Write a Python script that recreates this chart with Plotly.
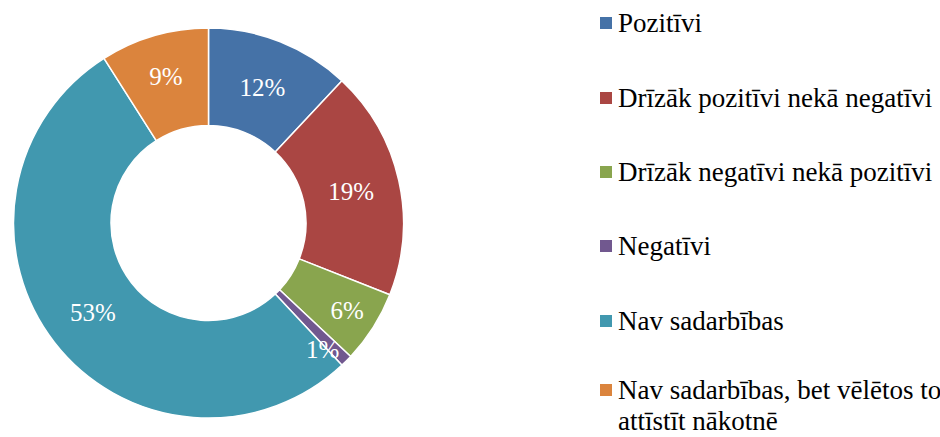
import math
import plotly.graph_objects as go

# Survey response shares (percent)
labels = [
    "Pozitīvi",
    "Drīzāk pozitīvi nekā negatīvi",
    "Drīzāk negatīvi nekā pozitīvi",
    "Negatīvi",
    "Nav sadarbības",
    "Nav sadarbības, bet vēlētos to<br>attīstīt nākotnē",
]
values = [12, 19, 6, 1, 53, 9]
colors = ["#4572A7", "#AA4643", "#89A54E", "#71588F", "#4198AF", "#DB843D"]

W, H = 940, 437
FONT = "Liberation Serif"

# Pie placement in pixels (left, right, top, bottom)
PX0, PX1, PY0, PY1 = 12, 405, 28, 418

# Slices too thin to hold their label get it drawn on top instead
small = [v < 3 for v in values]

fig = go.Figure(
    go.Pie(
        labels=labels,
        values=values,
        hole=0.5,
        sort=False,
        direction="clockwise",
        rotation=0,
        marker=dict(colors=colors, line=dict(color="white", width=1.5)),
        texttemplate=["" if s else "%{value}%" for s in small],
        textposition="inside",
        insidetextorientation="horizontal",
        textfont=dict(family=FONT, size=25, color="white"),
        domain=dict(x=[PX0 / W, PX1 / W], y=[(H - PY1) / H, (H - PY0) / H]),
        showlegend=False,
        hoverinfo="label+percent",
    )
)

annotations = []

# Labels for thin slices, placed near the outer edge at the slice's mid angle
cx, cy = (PX0 + PX1) / 2, (PY0 + PY1) / 2
R = (PY1 - PY0) / 2
total = sum(values)
cum = 0
for v, s in zip(values, small):
    if s:
        ang = math.radians((cum + v / 2) / total * 360 + 3)
        r = 0.87 * R
        px = cx + r * math.sin(ang)
        py = cy - r * math.cos(ang)
        annotations.append(
            dict(
                text=f"{v}%", xref="paper", yref="paper",
                x=px / W, y=1 - py / H, xanchor="center", yanchor="middle",
                showarrow=False,
                font=dict(family=FONT, size=25, color="white"),
            )
        )
    cum += v

# Legend drawn as square swatches with labels on the right
row_centers = [23, 98, 172, 246, 321, 390]
LINE_GAP = 31
shapes = []
for lab, col, yc in zip(labels, colors, row_centers):
    shapes.append(
        dict(
            type="rect", xref="paper", yref="paper",
            x0=600 / W, x1=612 / W,
            y0=1 - (yc + 6) / H, y1=1 - (yc - 6) / H,
            fillcolor=col, line=dict(width=0),
        )
    )
    for k, part in enumerate(lab.split("<br>")):
        annotations.append(
            dict(
                text=part, xref="paper", yref="paper",
                x=616 / W, y=1 - (yc + k * LINE_GAP) / H,
                xanchor="left", yanchor="middle", align="left",
                showarrow=False,
                font=dict(family=FONT, size=27, color="black"),
            )
        )

fig.update_layout(
    width=W,
    height=H,
    margin=dict(l=0, r=0, t=0, b=0),
    paper_bgcolor="white",
    plot_bgcolor="white",
    shapes=shapes,
    annotations=annotations,
    uniformtext=dict(minsize=25, mode="show"),
)

fig.write_html("out.html")
